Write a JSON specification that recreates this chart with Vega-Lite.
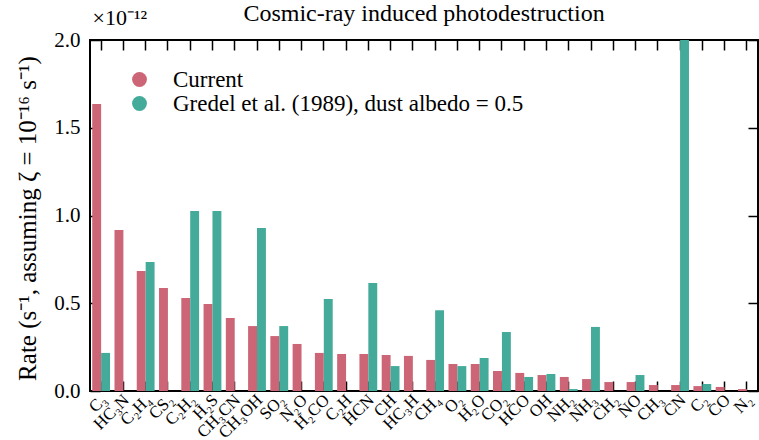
{
  "$schema": "https://vega.github.io/schema/vega-lite/v6.json",
  "width": 668,
  "height": 351,
  "autosize": "none",
  "padding": {"left": 90, "top": 40, "right": 1, "bottom": 49},
  "title": {"text": "Cosmic-ray induced photodestruction", "font": "Liberation Serif", "fontSize": 24, "fontWeight": "normal", "anchor": "middle", "frame": "group", "color": "black", "dy": 24},
  "config": {
    "font": "Liberation Serif",
    "view": {"stroke": "black", "strokeWidth": 2},
    "axis": {"grid": false, "domain": false, "tickColor": "black", "tickWidth": 1.5, "tickSize": -10, "labelColor": "black", "titleColor": "black", "zindex": 1, "labelFont": "Liberation Serif", "titleFont": "Liberation Serif"},
    "legend": {"labelFont": "serif", "titleFont": "serif"}
  },
  "data": {"values": [
    {"m": "C₃", "s": "Current", "r": 1.635},
    {"m": "C₃", "s": "Gredel et al. (1989), dust albedo = 0.5", "r": 0.217},
    {"m": "HC₃N", "s": "Current", "r": 0.917},
    {"m": "C₂H₄", "s": "Current", "r": 0.684},
    {"m": "C₂H₄", "s": "Gredel et al. (1989), dust albedo = 0.5", "r": 0.735},
    {"m": "CS₂", "s": "Current", "r": 0.587},
    {"m": "C₂H₂", "s": "Current", "r": 0.53},
    {"m": "C₂H₂", "s": "Gredel et al. (1989), dust albedo = 0.5", "r": 1.026},
    {"m": "H₂S", "s": "Current", "r": 0.496},
    {"m": "H₂S", "s": "Gredel et al. (1989), dust albedo = 0.5", "r": 1.026},
    {"m": "CH₃CN", "s": "Current", "r": 0.416},
    {"m": "CH₃OH", "s": "Current", "r": 0.37},
    {"m": "CH₃OH", "s": "Gredel et al. (1989), dust albedo = 0.5", "r": 0.929},
    {"m": "SO₂", "s": "Current", "r": 0.313},
    {"m": "SO₂", "s": "Gredel et al. (1989), dust albedo = 0.5", "r": 0.37},
    {"m": "N₂O", "s": "Current", "r": 0.268},
    {"m": "H₂CO", "s": "Current", "r": 0.217},
    {"m": "H₂CO", "s": "Gredel et al. (1989), dust albedo = 0.5", "r": 0.524},
    {"m": "C₂H", "s": "Current", "r": 0.211},
    {"m": "HCN", "s": "Current", "r": 0.211},
    {"m": "HCN", "s": "Gredel et al. (1989), dust albedo = 0.5", "r": 0.615},
    {"m": "CH", "s": "Current", "r": 0.205},
    {"m": "CH", "s": "Gredel et al. (1989), dust albedo = 0.5", "r": 0.142},
    {"m": "HC₃H", "s": "Current", "r": 0.2},
    {"m": "CH₄", "s": "Current", "r": 0.177},
    {"m": "CH₄", "s": "Gredel et al. (1989), dust albedo = 0.5", "r": 0.46},
    {"m": "O₂", "s": "Current", "r": 0.154},
    {"m": "O₂", "s": "Gredel et al. (1989), dust albedo = 0.5", "r": 0.142},
    {"m": "H₂O", "s": "Current", "r": 0.154},
    {"m": "H₂O", "s": "Gredel et al. (1989), dust albedo = 0.5", "r": 0.188},
    {"m": "CO₂", "s": "Current", "r": 0.114},
    {"m": "CO₂", "s": "Gredel et al. (1989), dust albedo = 0.5", "r": 0.336},
    {"m": "HCO", "s": "Current", "r": 0.103},
    {"m": "HCO", "s": "Gredel et al. (1989), dust albedo = 0.5", "r": 0.08},
    {"m": "OH", "s": "Current", "r": 0.091},
    {"m": "OH", "s": "Gredel et al. (1989), dust albedo = 0.5", "r": 0.097},
    {"m": "NH₂", "s": "Current", "r": 0.08},
    {"m": "NH₂", "s": "Gredel et al. (1989), dust albedo = 0.5", "r": 0.011},
    {"m": "NH₃", "s": "Current", "r": 0.068},
    {"m": "NH₃", "s": "Gredel et al. (1989), dust albedo = 0.5", "r": 0.365},
    {"m": "CH₂", "s": "Current", "r": 0.051},
    {"m": "NO", "s": "Current", "r": 0.051},
    {"m": "NO", "s": "Gredel et al. (1989), dust albedo = 0.5", "r": 0.091},
    {"m": "CH₃", "s": "Current", "r": 0.034},
    {"m": "CN", "s": "Current", "r": 0.034},
    {"m": "CN", "s": "Gredel et al. (1989), dust albedo = 0.5", "r": 2.1},
    {"m": "C₂", "s": "Current", "r": 0.028},
    {"m": "C₂", "s": "Gredel et al. (1989), dust albedo = 0.5", "r": 0.04},
    {"m": "CO", "s": "Current", "r": 0.023},
    {"m": "N₂", "s": "Current", "r": 0.011}
  ]},
  "layer": [
    {
      "mark": {"type": "bar", "clip": true},
      "encoding": {
        "x": {"field": "m", "type": "nominal", "sort": null,
          "scale": {"domain": ["C₃","HC₃N","C₂H₄","CS₂","C₂H₂","H₂S","CH₃CN","CH₃OH","SO₂","N₂O","H₂CO","C₂H","HCN","CH","HC₃H","CH₄","O₂","H₂O","CO₂","HCO","OH","NH₂","NH₃","CH₂","NO","CH₃","CN","C₂","CO","N₂"], "paddingInner": 0.2, "paddingOuter": 0.1},
          "axis": {"title": null, "labelAngle": -45, "labelAlign": "right", "labelBaseline": "middle", "labelFont": "Liberation Serif", "labelFontSize": 17, "labelPadding": 16, "labelOffset": 3}},
        "xOffset": {"field": "s", "type": "nominal", "scale": {"domain": ["Current", "Gredel et al. (1989), dust albedo = 0.5"], "paddingInner": 0, "paddingOuter": 0}},
        "y": {"field": "r", "type": "quantitative", "scale": {"domain": [0, 2], "nice": false},
          "axis": {"values": [0, 0.5, 1, 1.5, 2], "format": ".1f", "labelFont": "serif", "labelFontSize": 21, "labelPadding": 20,
            "title": "Rate (s⁻¹, assuming ζ = 10⁻¹⁶ s⁻¹)", "titleFont": "Liberation Serif", "titleFontSize": 25, "titleFontWeight": "normal", "titleX": -50, "titleY": 178}},
        "color": {"field": "s", "type": "nominal",
          "scale": {"domain": ["Current", "Gredel et al. (1989), dust albedo = 0.5"], "range": ["#CC6677", "#44AA99"]},
          "legend": {"orient": "none", "legendX": 38, "legendY": 28, "title": null, "symbolType": "circle", "symbolSize": 220, "symbolOpacity": 1, "symbolStrokeWidth": 0, "labelFontSize": 23, "labelFont": "Times New Roman", "labelColor": "black", "labelLimit": 0, "rowPadding": 0, "labelOffset": 22}}
      }
    },
    {
      "mark": {"type": "point", "opacity": 0},
      "encoding": {
        "x": {"field": "m", "type": "nominal", "sort": null,
          "scale": {"type": "band", "domain": ["C₃","HC₃N","C₂H₄","CS₂","C₂H₂","H₂S","CH₃CN","CH₃OH","SO₂","N₂O","H₂CO","C₂H","HCN","CH","HC₃H","CH₄","O₂","H₂O","CO₂","HCO","OH","NH₂","NH₃","CH₂","NO","CH₃","CN","C₂","CO","N₂"], "paddingInner": 0.2, "paddingOuter": 0.1},
          "axis": {"orient": "top", "labels": false, "title": "×10⁻¹²", "titleFont": "Liberation Serif", "titleFontSize": 22, "titleFontWeight": "normal", "titleAnchor": "start", "titleAlign": "left", "titleBaseline": "alphabetic", "titleX": 2, "titleY": -16}},
        "y": {"field": "r", "type": "quantitative", "scale": {"domain": [0, 2], "nice": false},
          "axis": {"orient": "right", "labels": false, "title": null, "values": [0, 0.5, 1, 1.5, 2]}}
      }
    }
  ],
  "resolve": {"scale": {"x": "independent", "y": "independent"}, "axis": {"x": "independent", "y": "independent"}}
}
